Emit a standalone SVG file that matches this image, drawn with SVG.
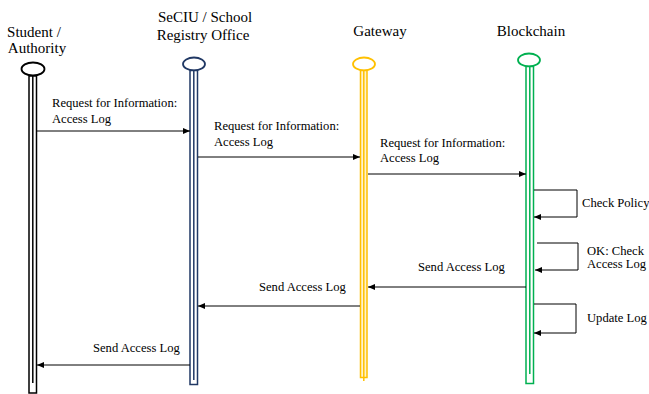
<svg xmlns="http://www.w3.org/2000/svg" width="649" height="394" viewBox="0 0 649 394">
<style>
.hdr{font-family:"Liberation Serif","Times New Roman",serif;font-size:15px;fill:#000}
.lbl{font-family:"Liberation Serif","Times New Roman",serif;font-size:12.6px;fill:#000}
.msg{stroke:#000;stroke-width:1;fill:none}
</style>
<defs>
<marker id="ah" markerWidth="7" markerHeight="6" refX="7" refY="3" orient="auto" markerUnits="userSpaceOnUse">
<path d="M0,0 L7,3 L0,6 Z" fill="#000"/>
</marker>
</defs>
<rect width="649" height="394" fill="#fff"/>
<g id="student">
<text class="hdr" x="34" y="37" text-anchor="middle">Student /</text>
<text class="hdr" x="37" y="53" text-anchor="middle">Authority</text>
<ellipse cx="33" cy="69" rx="11.5" ry="6.5" fill="#fff" stroke="#000" stroke-width="1.8"/>
<rect x="29" y="76" width="7.5" height="317" fill="#fff" stroke="#000" stroke-width="1.5"/>
<line x1="32.8" y1="76" x2="32.8" y2="383" stroke="#000" stroke-width="1.5"/>
</g>
<g id="seciu">
<text class="hdr" x="205" y="22" text-anchor="middle">SeCIU / School</text>
<text class="hdr" x="203" y="40" text-anchor="middle">Registry Office</text>
<ellipse cx="194" cy="64" rx="11" ry="6.5" fill="#fff" stroke="#203864" stroke-width="1.8"/>
<rect x="190" y="70.5" width="7.5" height="314" fill="#fff" stroke="#203864" stroke-width="1.5"/>
<line x1="193.8" y1="70.5" x2="193.8" y2="380" stroke="#203864" stroke-width="1.5"/>
</g>
<g id="gateway">
<text class="hdr" x="380" y="36" text-anchor="middle">Gateway</text>
<ellipse cx="364" cy="64" rx="11" ry="6.5" fill="#fff" stroke="#ffc000" stroke-width="1.8"/>
<rect x="360.5" y="70.5" width="6.5" height="307" fill="#fff2cc" stroke="#ffc000" stroke-width="1.5"/>
<line x1="363.8" y1="70.5" x2="363.8" y2="381" stroke="#ffc000" stroke-width="1.5"/>
</g>
<g id="blockchain">
<text class="hdr" x="531" y="36" text-anchor="middle">Blockchain</text>
<ellipse cx="529" cy="60" rx="11" ry="6.5" fill="#fff" stroke="#00b050" stroke-width="1.8"/>
<rect x="526" y="66.5" width="7.5" height="317" fill="#fff" stroke="#00b050" stroke-width="1.5"/>
<line x1="529.8" y1="66.5" x2="529.8" y2="374" stroke="#00b050" stroke-width="1.5"/>
</g>
<g id="connectors">
<line class="msg" x1="37" y1="131" x2="190" y2="131" marker-end="url(#ah)"/>
<line class="msg" x1="198" y1="157" x2="360" y2="157" marker-end="url(#ah)"/>
<line class="msg" x1="368" y1="174" x2="526" y2="174" marker-end="url(#ah)"/>
<polyline class="msg" points="534,190 577,190 577,217 534,217" marker-end="url(#ah)"/>
<polyline class="msg" points="537,243 578,243 578,270 535,270" marker-end="url(#ah)"/>
<line class="msg" x1="526" y1="287" x2="368" y2="287" marker-end="url(#ah)"/>
<line class="msg" x1="360" y1="306" x2="198" y2="306" marker-end="url(#ah)"/>
<polyline class="msg" points="534,304 576,304 576,333 534,333" marker-end="url(#ah)"/>
<line class="msg" x1="190" y1="365" x2="37" y2="365" marker-end="url(#ah)"/>
</g>
<g id="labels" font-family="Liberation Serif, Times New Roman, serif">
<text class="lbl" x="52" y="107">Request for Information:</text>
<text class="lbl" x="52" y="123">Access Log</text>
<text class="lbl" x="214" y="130">Request for Information:</text>
<text class="lbl" x="214" y="146">Access Log</text>
<text class="lbl" x="380" y="147">Request for Information:</text>
<text class="lbl" x="380" y="162">Access Log</text>
<text class="lbl" x="582" y="207">Check Policy</text>
<text class="lbl" x="587" y="255">OK: Check</text>
<text class="lbl" x="587" y="268">Access Log</text>
<text class="lbl" x="418" y="271">Send Access Log</text>
<text class="lbl" x="259" y="291">Send Access Log</text>
<text class="lbl" x="587" y="322">Update Log</text>
<text class="lbl" x="93" y="352">Send Access Log</text>
</g>
</svg>
